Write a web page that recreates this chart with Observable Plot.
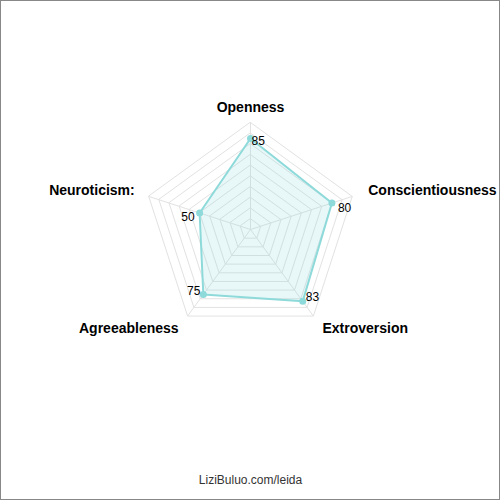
<!DOCTYPE html>
<html>
<head>
<meta charset="utf-8">
<script src="https://cdn.jsdelivr.net/npm/d3@7"></script>
<script src="https://cdn.jsdelivr.net/npm/@observablehq/plot@0.6"></script>
<style>
  html, body { margin: 0; padding: 0; background: #fff; }
  #box { width: 500px; height: 500px; box-sizing: border-box; border: 1px solid #888; position: relative; overflow: hidden; }
  svg { display: block; }
</style>
</head>
<body>
<div id="box"></div>
<script>
// ---- data ----
const axisNames = ["Openness", "Conscientiousness", "Extroversion", "Agreeableness", "Neuroticism:"];
const scores = [85, 80, 83, 75, 50];
const maxScore = 100;
const gridLevels = [10, 20, 30, 40, 50, 60, 70, 80, 90, 100];
const caption = "LiziBuluo.com/leida";

// ---- geometry helpers ----
const W = 498, H = 498;
const pxPerUnit = 1.07;
const cx = 249, cy = 228;
const angleOf = i => Math.PI / 2 - i * 2 * Math.PI / axisNames.length;
const pt = (i, r) => ({x: r * Math.cos(angleOf(i)), y: r * Math.sin(angleOf(i))});

const gridData = gridLevels.flatMap(level => axisNames.map((name, i) => ({level, ...pt(i, level)})));
const spokes = axisNames.map((name, i) => ({...pt(i, maxScore)}));
const seriesData = scores.map((v, i) => ({name: axisNames[i], value: v, ...pt(i, v)}));

const color = "#8edada";
const font = "'Liberation Sans', Arial, Helvetica, sans-serif";

const labelLayout = [
  {anchor: "middle", dx: 0, dy: -15},
  {anchor: "start", dx: 16, dy: -6},
  {anchor: "start", dx: 9, dy: 12},
  {anchor: "end", dx: -9, dy: 12},
  {anchor: "end", dx: -14, dy: -6}
];
const valueLayout = [
  {anchor: "start", dx: 1, dy: 3},
  {anchor: "start", dx: 6, dy: 5},
  {anchor: "start", dx: 3, dy: -4},
  {anchor: "end", dx: -3, dy: -3},
  {anchor: "end", dx: -5, dy: 4}
];

const axisLabelMarks = axisNames.map((name, i) => Plot.text([{name, ...pt(i, maxScore)}], {
  x: "x", y: "y", text: "name",
  textAnchor: labelLayout[i].anchor, dx: labelLayout[i].dx, dy: labelLayout[i].dy,
  fontSize: 14, fontWeight: "bold", fill: "#000", lineAnchor: "middle"
}));
const valueLabelMarks = seriesData.map((d, i) => Plot.text([d], {
  x: "x", y: "y", text: d => String(d.value),
  textAnchor: valueLayout[i].anchor, dx: valueLayout[i].dx, dy: valueLayout[i].dy,
  fontSize: 12, fill: "#000", lineAnchor: "middle"
}));

const chart = Plot.plot({
  width: W, height: H,
  margin: 0,
  style: {fontFamily: font, background: "#fff"},
  x: {domain: [-cx / pxPerUnit, (W - cx) / pxPerUnit], axis: null},
  y: {domain: [-(H - cy) / pxPerUnit, cy / pxPerUnit], axis: null},
  marks: [
    Plot.line(gridData, {x: "x", y: "y", z: "level", curve: "linear-closed", stroke: "#e2e2e2", strokeWidth: 1}),
    Plot.link(spokes, {x1: () => 0, y1: () => 0, x2: "x", y2: "y", stroke: "#e2e2e2", strokeWidth: 1}),
    Plot.line(seriesData, {x: "x", y: "y", curve: "linear-closed", fill: color, fillOpacity: 0.2, stroke: color, strokeWidth: 2}),
    Plot.dot(seriesData, {x: "x", y: "y", r: 3.5, fill: color, stroke: "none"}),
    ...axisLabelMarks,
    ...valueLabelMarks,
    Plot.text([caption], {frameAnchor: "bottom", dy: -19, text: d => d, fontSize: 12, fill: "#333", lineAnchor: "middle"})
  ]
});
document.getElementById("box").appendChild(chart);
</script>
</body>
</html>
